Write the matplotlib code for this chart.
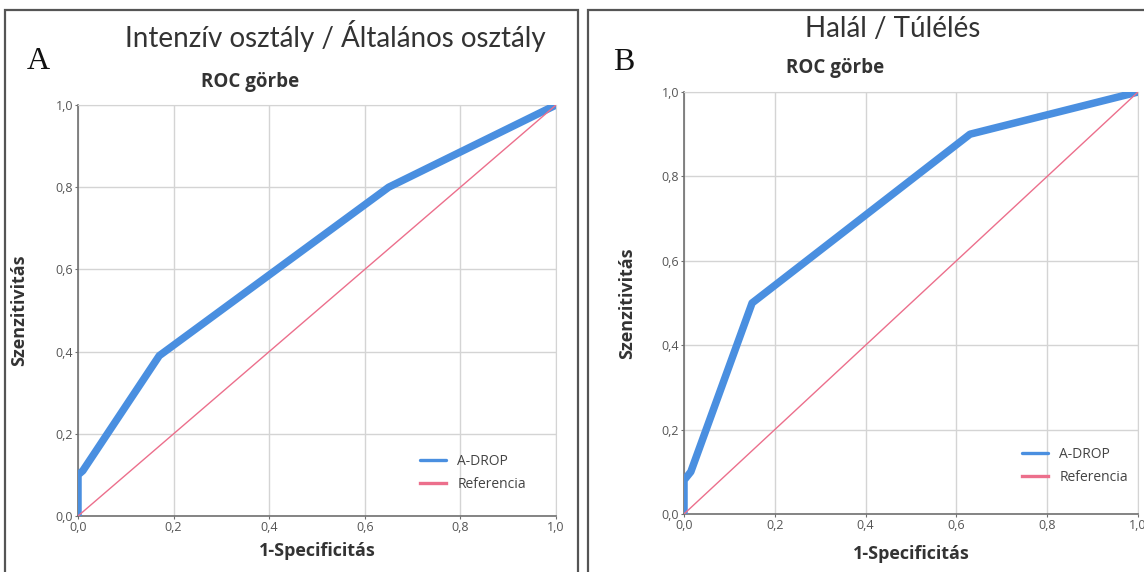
import matplotlib
matplotlib.use("Agg")
import matplotlib.pyplot as plt
from matplotlib.patches import Rectangle
from matplotlib.ticker import FuncFormatter

# Data
fpr_a = [0.0, 0.0, 0.01, 0.17, 0.65, 1.0]
tpr_a = [0.0, 0.10, 0.11, 0.39, 0.80, 1.0]
fpr_b = [0.0, 0.0, 0.015, 0.15, 0.63, 1.0]
tpr_b = [0.0, 0.08, 0.10, 0.50, 0.90, 1.0]
ref = [0.0, 1.0]
ticks = [0.0, 0.2, 0.4, 0.6, 0.8, 1.0]
panel_titles = ["Intenzív osztály / Általános osztály", "Halál / Túlélés"]
panel_letters = ["A", "B"]
series_names = ["A-DROP", "Referencia"]

W, H = 1144, 572
fig = plt.figure(figsize=(W / 100, H / 100), dpi=100)
fig.patch.set_facecolor("white")

SANS = ["Open Sans", "DejaVu Sans"]
TITLE = ["Lato", "DejaVu Sans"]
BLUE = "#4a8fe0"
PINK = "#ec6f8c"

def px(x0, y0, w, h):
    return [x0 / W, (H - y0 - h) / H, w / W, h / H]

# panel frames
for (x0, x1) in [(5, 578), (588, 1150)]:
    fig.patches.append(Rectangle((x0 / W, -0.05), (x1 - x0) / W, (H - 10) / H + 0.05,
                                 transform=fig.transFigure, fill=False,
                                 edgecolor="#555555", linewidth=1.6))

configs = [
    dict(ax=(78, 105, 478, 411), fpr=fpr_a, tpr=tpr_a, title_x=335, title_y=36,
         letter_x=27, letter_y=62, roc_x=250, roc_y=82, ylab_x=19, xlab_y=551,
         leg=(0.715, 0.105)),
    dict(ax=(684, 92, 454, 422), fpr=fpr_b, tpr=tpr_b, title_x=893, title_y=29,
         letter_x=613, letter_y=63, roc_x=835, roc_y=68, ylab_x=627, xlab_y=554,
         leg=(0.744, 0.114)),
]

for i, c in enumerate(configs):
    ax = fig.add_axes(px(*c["ax"]))
    ax.set_xlim(0, 1)
    ax.set_ylim(0, 1)
    ax.set_xticks(ticks)
    ax.set_yticks(ticks)
    fmt = FuncFormatter(lambda v, p: f"{v:.1f}".replace(".", ","))
    ax.xaxis.set_major_formatter(fmt)
    ax.yaxis.set_major_formatter(fmt)
    ax.grid(True, color="#d4d4d4", linewidth=1.0)
    ax.set_axisbelow(True)
    for s in ["top", "right"]:
        ax.spines[s].set_color("#d4d4d4")
    for s in ["left", "bottom"]:
        ax.spines[s].set_color("#707070")
        ax.spines[s].set_linewidth(1.2)
    ax.tick_params(labelsize=9, labelcolor="#555555", color="#707070", length=2, pad=1.5)
    for lab in ax.get_xticklabels() + ax.get_yticklabels():
        lab.set_family(SANS)
    l1, = ax.plot(c["fpr"], c["tpr"], color=BLUE, linewidth=5.4, solid_joinstyle="round",
                  solid_capstyle="round", label=series_names[0], zorder=3)
    l2, = ax.plot(ref, ref, color=PINK, linewidth=1.0, label=series_names[1], zorder=4)
    leg = ax.legend(handles=[l1, l2], loc="center left", bbox_to_anchor=c["leg"],
                    frameon=False, prop={"family": SANS, "size": 10},
                    handlelength=1.9, handletextpad=0.8, labelspacing=0.55,
                    borderpad=0, borderaxespad=0)
    for h in leg.get_lines():
        h.set_linewidth(2.4)
    for t in leg.get_texts():
        t.set_color("#444444")

    fig.text(c["title_x"] / W, 1 - c["title_y"] / H, panel_titles[i], ha="center", va="center",
             fontsize=20, family=TITLE, color="#333333")
    fig.text(c["letter_x"] / W, 1 - c["letter_y"] / H, panel_letters[i], ha="left", va="center",
             fontsize=23, family=["Liberation Serif", "DejaVu Serif"], color="#111111")
    fig.text(c["roc_x"] / W, 1 - c["roc_y"] / H, "ROC görbe", ha="center", va="center",
             fontsize=13.5, fontweight="bold", family=SANS, color="#333333")
    axc = c["ax"]
    fig.text(c["ylab_x"] / W, 1 - (axc[1] + axc[3] / 2) / H, "Szenzitivitás", ha="center",
             va="center", rotation=90, fontsize=13, fontweight="bold", family=SANS, color="#333333")
    fig.text((axc[0] + axc[2] / 2) / W, 1 - c["xlab_y"] / H, "1-Specificitás", ha="center",
             va="center", fontsize=13, fontweight="bold", family=SANS, color="#333333")

fig.savefig("out.png", dpi=100)
